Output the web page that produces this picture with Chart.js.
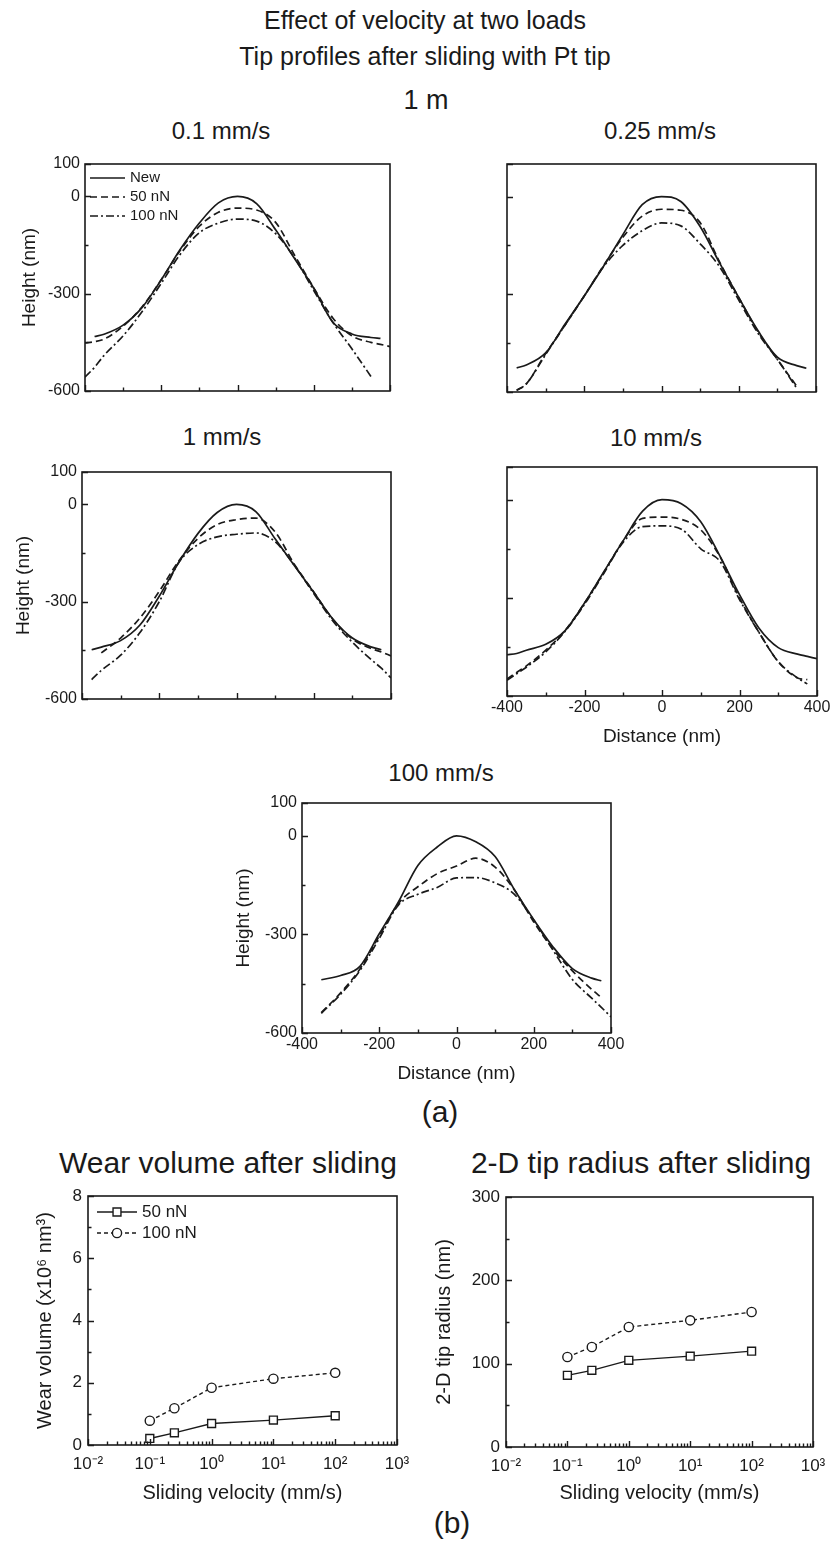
<!DOCTYPE html>
<html>
<head>
<meta charset="utf-8">
<script src="https://cdn.jsdelivr.net/npm/chart.js@4.4.1/dist/chart.umd.min.js"></script>
<style>
  html, body { margin: 0; padding: 0; background: #fff; }
  #page { position: relative; width: 830px; height: 1546px; overflow: hidden; font-family: 'Liberation Sans', Arial, sans-serif; color: #1a1a1a; }
  #page canvas { position: absolute; }
  .txt { position: absolute; line-height: 1; white-space: nowrap; transform: translateX(-50%); }
</style>
</head>
<body>
<div id="page"></div>
<script>
// ---- profile data (nm), one shared distance axis per panel ----
const distance = [-400, -375, -350, -300, -250, -200, -150, -100, -50, 0, 50, 100, 150, 200, 250, 300, 350, 375, 400]

// 0.1 mm/s
const new01 = [null, -432, -425, -397, -342, -257, -163, -82, -20, 0, -22, -103, -192, -283, -388, -424, -435, -438, null]
const load50At01 = [-452, -448, -440, -400, -340, -257, -166, -92, -49, -36, -42, -80, -182, -282, -375, -430, -450, -456, -463]
const load100At01 = [-557, -527, -490, -430, -355, -268, -178, -112, -82, -70, -76, -115, -190, -290, -388, -470, -555, null, null]

// 0.25 mm/s
const new025 = [null, -526, -517, -480, -392, -305, -214, -117, -25, 0, -15, -92, -203, -310, -412, -493, -519, -527, null]
const load50At025 = [null, -595, -575, -482, -395, -305, -212, -125, -60, -39, -42, -80, -200, -310, -415, -500, -582, null, null]
const load100At025 = [null, -595, -575, -485, -395, -305, -215, -150, -105, -81, -90, -145, -215, -318, -420, -500, -588, null, null]

// 1 mm/s
const new1 = [null, -448, -440, -420, -372, -283, -180, -90, -25, 0, -22, -106, -189, -271, -354, -412, -440, -448, null]
const load50At1 = [null, null, -458, -412, -350, -268, -175, -105, -62, -47, -42, -85, -185, -270, -355, -415, -445, -455, -467]
const load100At1 = [null, -540, -512, -465, -395, -300, -180, -124, -100, -92, -88, -115, -188, -275, -360, -425, -480, -505, -535]

// 10 mm/s
const new10 = [-474, -470, -460, -442, -400, -316, -220, -125, -35, 0, -12, -67, -173, -290, -392, -452, -472, -479, -486]
const load50At10 = [-548, -528, -508, -460, -400, -316, -222, -125, -57, -53, -60, -92, -175, -300, -405, -495, -545, -550, null]
const load100At10 = [-552, -532, -512, -465, -402, -320, -225, -130, -82, -80, -90, -150, -189, -305, -405, -495, -545, -563, null]

// 100 mm/s
const new100 = [null, null, -438, -425, -397, -298, -200, -90, -34, 0, -18, -63, -164, -255, -338, -404, -433, -441, null]
const load50At100 = [null, null, -538, -478, -405, -305, -205, -155, -115, -92, -68, -95, -165, -262, -345, -411, -467, -492, null]
const load100At100 = [null, null, -540, -482, -410, -312, -210, -178, -157, -128, -127, -143, -178, -256, -348, -437, -494, -522, -551]

// ---- velocity summary ----
const velocity = [0.1, 0.25, 1, 10, 100]
const wear50 = [0.21, 0.39, 0.69, 0.80, 0.94]
const wear100 = [0.78, 1.18, 1.84, 2.13, 2.32]
const radius50 = [86, 92, 104, 109, 115]
const radius100 = [108, 120, 144, 152, 162]

// ---- ticks ----
const distTicks = [-400, -300, -200, -100, 0, 100, 200, 300, 400]
const distLabels = [-400, -200, 0, 200, 400]
const heightTicks = [100, 0, -150, -300, -450, -600]
const heightLabels = [100, 0, -300, -600]
const decades = [-2, -1, 0, 1, 2, 3]
const wearTicks = [0, 1, 2, 3, 4, 5, 6, 7, 8]
const wearLabels = [0, 2, 4, 6, 8]
const radiusTicks = [0, 50, 100, 150, 200, 250, 300]
const radiusLabels = [0, 100, 200, 300]

const INK = '#1a1a1a'
const FONT = "'Liberation Sans', Arial, sans-serif"
const PAD = 24

Chart.defaults.font.family = FONT
Chart.defaults.color = INK

const page = document.getElementById('page')

// headings as plain text: [text, centre x, baseline y, size]
const headings = [
  ['Effect of velocity at two loads', 425, 29, 25],
  ['Tip profiles after sliding with Pt tip', 425, 65.5, 25],
  ['1 m', 426, 110, 27],
  ['0.1 mm/s', 221, 139, 24],
  ['0.25 mm/s', 660, 139, 24],
  ['1 mm/s', 222, 445, 24],
  ['10 mm/s', 656, 446, 24],
  ['100 mm/s', 441, 781.5, 24],
  ['(a)', 440, 1122, 30],
  ['Wear volume after sliding', 228, 1173, 30],
  ['2-D tip radius after sliding', 641, 1173, 30],
  ['(b)', 452, 1533, 30]
]

for (const [text, x, base, size] of headings) {
  const el = document.createElement('div')
  el.className = 'txt'
  el.textContent = text
  el.style.left = x + 'px'
  el.style.top = (base - 0.8465 * size) + 'px'
  el.style.fontSize = size + 'px'
  page.appendChild(el)
}

const pairs = (xs, ys) => xs.map((x, i) => ({ x, y: ys[i] }))

const SUP = { '-': '\u207B', '0': '\u2070', '1': '\u00B9', '2': '\u00B2', '3': '\u00B3' }
const powerLabel = (e) => '10' + String(e).split('').map((ch) => SUP[ch]).join('')

// frame round the plot area and inward ticks on the bottom and left axes
const frame = {
  id: 'frame',
  afterDraw (chart) {
    const { ctx, chartArea: a, scales: { x, y } } = chart
    ctx.save()
    ctx.strokeStyle = INK
    ctx.setLineDash([])
    ctx.lineWidth = 1.4
    ctx.beginPath()
    for (const t of x.ticks) {
      const px = Math.round(x.getPixelForValue(t.value)) + 0.5
      ctx.moveTo(px, a.bottom)
      ctx.lineTo(px, a.bottom - (t.major ? 6 : 3.5))
    }
    for (const t of y.ticks) {
      const py = Math.round(y.getPixelForValue(t.value)) + 0.5
      ctx.moveTo(a.left, py)
      ctx.lineTo(a.left + (t.major ? 6 : 3.5), py)
    }
    ctx.stroke()
    ctx.lineWidth = 1.6
    ctx.strokeRect(a.left, a.top, a.right - a.left, a.bottom - a.top)
    ctx.restore()
  }
}

function drawMarker (ctx, style, x, y, r) {
  ctx.beginPath()
  if (style === 'rect') {
    const h = r * Math.SQRT1_2
    ctx.rect(x - h, y - h, 2 * h, 2 * h)
  } else {
    ctx.arc(x, y, r, 0, Math.PI * 2)
  }
  ctx.fillStyle = '#fff'
  ctx.fill()
  ctx.setLineDash([])
  ctx.stroke()
}

// legend drawn inside the plot area
const key = {
  id: 'key',
  afterDraw (chart, args, opts) {
    if (!opts.show) return
    const { ctx, chartArea: a } = chart
    ctx.save()
    ctx.strokeStyle = INK
    ctx.fillStyle = INK
    ctx.font = opts.size + 'px ' + FONT
    ctx.textBaseline = 'middle'
    chart.data.datasets.forEach((ds, i) => {
      const x0 = a.left + opts.x
      const yy = a.top + opts.y + i * opts.step
      ctx.lineWidth = ds.borderWidth
      ctx.setLineDash(ds.borderDash || [])
      ctx.beginPath()
      ctx.moveTo(x0, yy)
      ctx.lineTo(x0 + opts.len, yy)
      ctx.stroke()
      if (opts.markers) {
        ctx.lineWidth = ds.pointBorderWidth
        drawMarker(ctx, ds.pointStyle, x0 + opts.len / 2, yy, ds.pointRadius)
      }
      ctx.fillStyle = INK
      ctx.fillText(ds.label, x0 + opts.len + opts.gap, yy)
    })
    ctx.restore()
  }
}

function addCanvas (box, yw, xh) {
  const [l, t, r, b] = box
  const c = document.createElement('canvas')
  c.width = r - l + yw + PAD
  c.height = b - t + PAD + xh
  c.style.left = (l - yw) + 'px'
  c.style.top = (t - PAD) + 'px'
  c.style.width = c.width + 'px'
  c.style.height = c.height + 'px'
  page.appendChild(c)
  return c
}

function baseOptions (spec) {
  return {
    responsive: false,
    animation: false,
    events: [],
    layout: { padding: { top: PAD, right: PAD, left: 0, bottom: 0 } },
    plugins: {
      legend: { display: false },
      tooltip: { enabled: false },
      key: spec.key || { show: false }
    }
  }
}

const noGrid = { display: false, drawTicks: false }

function profileChart (spec) {
  const canvas = addCanvas(spec.box, spec.yw, spec.xh)
  const [newY, mid, high] = spec.series
  const datasets = [
    { label: 'New', data: pairs(distance, newY), borderDash: [] },
    { label: '50 nN', data: pairs(distance, mid), borderDash: [7, 4] },
    { label: '100 nN', data: pairs(distance, high), borderDash: [8, 3, 2, 3] }
  ].map((ds) => ({
    ...ds,
    borderColor: INK,
    borderWidth: 1.7,
    pointRadius: 0,
    fill: false,
    cubicInterpolationMode: 'monotone'
  }))

  const options = baseOptions(spec)
  options.scales = {
    x: {
      type: 'linear',
      min: -400,
      max: 400,
      afterBuildTicks: (s) => { s.ticks = distTicks.map((v) => ({ value: v, major: distLabels.includes(v) })) },
      afterFit: (s) => { s.height = spec.xh },
      grid: noGrid,
      border: { display: false },
      ticks: {
        autoSkip: false,
        maxRotation: 0,
        padding: 2,
        font: { size: 16 },
        color: INK,
        callback: (v) => (spec.showX && distLabels.includes(v) ? String(v) : '')
      },
      title: {
        display: spec.showX,
        text: 'Distance (nm)',
        font: { size: 19 },
        color: INK,
        padding: { top: 0, bottom: 8 }
      }
    },
    y: {
      type: 'linear',
      min: -600,
      max: 100,
      afterBuildTicks: (s) => { s.ticks = heightTicks.map((v) => ({ value: v, major: heightLabels.includes(v) })) },
      afterFit: (s) => { s.width = spec.yw },
      grid: noGrid,
      border: { display: false },
      ticks: {
        autoSkip: false,
        padding: 5,
        font: { size: 16 },
        color: INK,
        callback: (v) => (spec.showY && heightLabels.includes(v) ? String(v) : '')
      },
      title: {
        display: spec.showY,
        text: 'Height (nm)',
        font: { size: 19 },
        color: INK,
        padding: { top: spec.yTitlePad || 0, bottom: 0 }
      }
    }
  }

  return new Chart(canvas, { type: 'line', data: { datasets }, options, plugins: [frame, key] })
}

function velocityChart (spec) {
  const canvas = addCanvas(spec.box, spec.yw, spec.xh)
  const [low, high] = spec.series
  const datasets = [
    { label: '50 nN', data: pairs(velocity, low), borderDash: [], pointStyle: 'rect', pointRadius: 5.6 },
    { label: '100 nN', data: pairs(velocity, high), borderDash: [4, 3], pointStyle: 'circle', pointRadius: 4.6 }
  ].map((ds) => ({
    ...ds,
    borderColor: INK,
    borderWidth: 1.4,
    pointBorderColor: INK,
    pointBackgroundColor: '#fff',
    pointBorderWidth: 1.4,
    fill: false,
    tension: 0
  }))

  const options = baseOptions(spec)
  options.scales = {
    x: {
      type: 'logarithmic',
      min: 0.01,
      max: 1000,
      afterBuildTicks: (s) => {
        const ticks = []
        decades.forEach((e, i) => {
          ticks.push({ value: Math.pow(10, e), major: true })
          if (i < decades.length - 1) {
            for (let m = 2; m <= 9; m++) ticks.push({ value: m * Math.pow(10, e), major: false })
          }
        })
        s.ticks = ticks
      },
      afterFit: (s) => { s.height = spec.xh },
      grid: noGrid,
      border: { display: false },
      ticks: {
        autoSkip: false,
        maxRotation: 0,
        padding: 9,
        font: { size: 17 },
        color: INK,
        callback: (v, i, ticks) => (ticks[i] && ticks[i].major ? powerLabel(Math.round(Math.log10(v))) : '')
      },
      title: {
        display: true,
        text: 'Sliding velocity (mm/s)',
        font: { size: 20 },
        color: INK,
        padding: { top: 0, bottom: spec.xTitlePad }
      }
    },
    y: {
      type: 'linear',
      min: spec.yTicks[0],
      max: spec.yTicks[spec.yTicks.length - 1],
      afterBuildTicks: (s) => { s.ticks = spec.yTicks.map((v) => ({ value: v, major: spec.yLabels.includes(v) })) },
      afterFit: (s) => { s.width = spec.yw },
      grid: noGrid,
      border: { display: false },
      ticks: {
        autoSkip: false,
        padding: 6,
        font: { size: 17 },
        color: INK,
        callback: (v) => (spec.yLabels.includes(v) ? String(v) : '')
      },
      title: {
        display: true,
        text: spec.yTitle,
        font: { size: 20 },
        color: INK,
        padding: { top: spec.yTitlePad, bottom: 0 }
      }
    }
  }

  return new Chart(canvas, { type: 'line', data: { datasets }, options, plugins: [frame, key] })
}

// box = plot area [left, top, right, bottom] in page pixels
profileChart({
  box: [85, 164, 390, 391], yw: 85, xh: 18, showY: true, showX: false, yTitlePad: 18.5,
  series: [new01, load50At01, load100At01],
  key: { show: true, x: 5, y: 14, step: 19, len: 35, gap: 5, size: 15, markers: false }
})
profileChart({
  box: [507, 164, 816, 392], yw: 60, xh: 18, showY: false, showX: false,
  series: [new025, load50At025, load100At025]
})
profileChart({
  box: [82, 472, 391, 699], yw: 82, xh: 18, showY: true, showX: false, yTitlePad: 12.5,
  series: [new1, load50At1, load100At1]
})
profileChart({
  box: [507, 467, 817, 696], yw: 60, xh: 60, showY: false, showX: true,
  series: [new10, load50At10, load100At10]
})
profileChart({
  box: [302, 803, 611, 1033], yw: 100, xh: 60, showY: true, showX: true, yTitlePad: 30.5,
  series: [new100, load50At100, load100At100]
})

velocityChart({
  box: [88, 1196, 397, 1445], yw: 88, xh: 70, yTitlePad: 33, xTitlePad: 9.5,
  series: [wear50, wear100],
  yTicks: wearTicks, yLabels: wearLabels,
  yTitle: 'Wear volume (x10\u2076 nm\u00B3)',
  key: { show: true, x: 9, y: 16, step: 21, len: 40, gap: 5, size: 17, markers: true }
})
velocityChart({
  box: [506, 1197, 813, 1447], yw: 86, xh: 70, yTitlePad: 12, xTitlePad: 11.5,
  series: [radius50, radius100],
  yTicks: radiusTicks, yLabels: radiusLabels,
  yTitle: '2-D tip radius (nm)'
})
</script>
</body>
</html>
